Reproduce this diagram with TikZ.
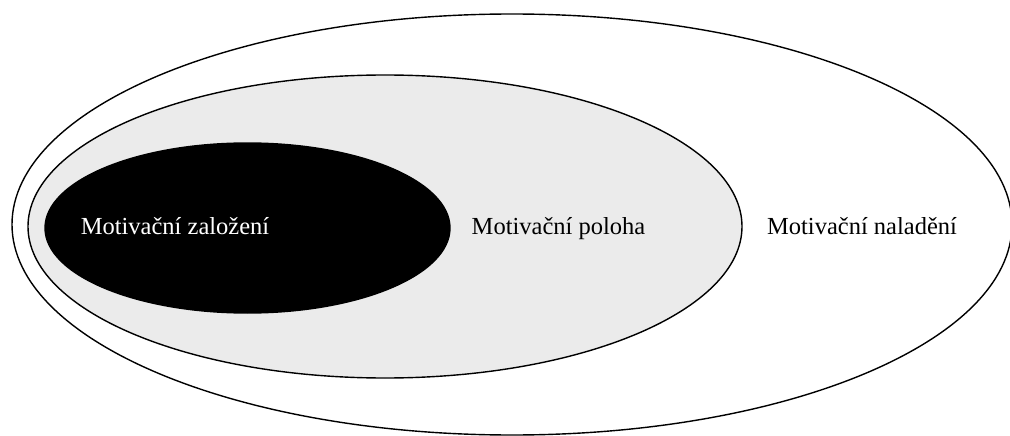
\documentclass[tikz,border=0pt]{standalone}
\usepackage{fontspec}
\setmainfont{Liberation Serif}
\definecolor{lightfill}{HTML}{EBEBEB}
\tikzset{
  ring/.style={draw=black, line width=1.4pt},
  lbl/.style={font=\fontsize{24.5}{28}\selectfont, inner sep=0pt, anchor=base}
}
\begin{document}
\begin{tikzpicture}[x=1pt,y=-1pt]
\useasboundingbox (0,0) rectangle (1010,436);
\clip (0,0) rectangle (1010,436);
\fill[white] (0,0) rectangle (1010,436);
\draw[ring] (512,224.5) ellipse [x radius=500, y radius=210.5];
\draw[ring, fill=lightfill] (385,226.5) ellipse [x radius=357, y radius=151.5];
\draw[ring, fill=black] (247.5,228) ellipse [x radius=202.5, y radius=85];
\node[lbl, text=white] (a) at (175,234) {Motivační založení};
\node[lbl] (b) at (558.5,234) {Motivační poloha};
\node[lbl] (c) at (862,234) {Motivační naladění};
\end{tikzpicture}
\end{document}
